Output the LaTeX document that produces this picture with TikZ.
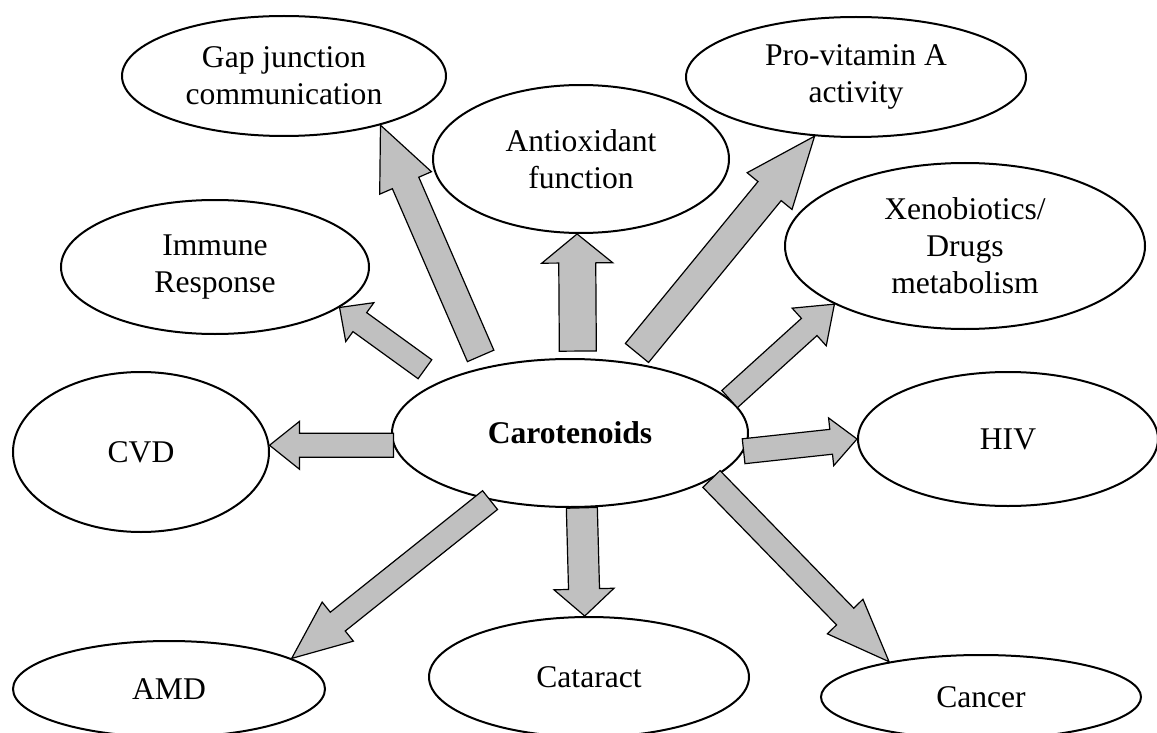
\documentclass[tikz,border=0pt]{standalone}
\usepackage{fontspec}
\setmainfont{Liberation Serif}
\usetikzlibrary{shapes.geometric, calc}

\definecolor{arrowgray}{HTML}{C0C0C0}
\tikzset{
  bubble/.style={draw, ellipse, line width=1pt, inner sep=0pt, align=center,
    font=\fontsize{15.8}{18.5}\selectfont},
  fatarrow/.style={draw, fill=arrowgray, line width=0.6pt, line join=miter}
}

% [gap at tail]{tail}{tip}{shaft half width}{head half width}{head length}
\newcommand\fatarrow[6][0pt]{%
  \coordinate (fa tail) at ($(#2)!#1!(#3)$);
  \coordinate (fa base) at ($(#3)!#6!(fa tail)$);
  \draw[fatarrow] ($(fa tail)!#4!90:(#3)$) -- ($(fa base)!#4!90:(#3)$)
    -- ($(fa base)!#5!90:(#3)$) -- (#3) -- ($(fa base)!#5!-90:(#3)$)
    -- ($(fa base)!#4!-90:(#3)$) -- ($(fa tail)!#4!-90:(#3)$) -- cycle;}

\begin{document}
\begin{tikzpicture}[x=0.5pt, y=-0.5pt]
    \clip (0,0) rectangle (1157,733);
    % outer bubbles
    \node[bubble, minimum width=162pt, minimum height=60pt] (gap) at (284,76) {Gap junction\\communication};
    \node[bubble, minimum width=170pt, minimum height=60pt] (pro) at (856,77) {Pro-vitamin A\\activity};
    \node[bubble, minimum width=148pt, minimum height=74pt] (anti) at (581,159) {Antioxidant\\function};
    \node[bubble, minimum width=154pt, minimum height=67pt] (imm) at (215,267) {Immune\\Response};
    \node[bubble, minimum width=180pt, minimum height=83pt] (xen) at (965,246) {Xenobiotics/\\Drugs\\metabolism};
    \node[bubble, minimum width=128pt, minimum height=80pt] (cvd) at (141,452) {CVD};
    \node[bubble, minimum width=150pt, minimum height=67pt] (hiv) at (1008,439) {HIV};
    \node[bubble, minimum width=156pt, minimum height=48pt] (amd) at (169,689) {AMD};
    \node[bubble, minimum width=160pt, minimum height=60pt] (cat) at (589,677) {Cataract};
    \node[bubble, minimum width=160pt, minimum height=42pt] (can) at (981,697) {Cancer};
    % centre
    \node[bubble, minimum width=178pt, minimum height=74pt,
          font=\fontsize{15.8}{18.5}\selectfont\bfseries] (car) at (570,433) {Carotenoids};

    % block arrows out of the centre
    \fatarrow{car.184}{cvd.3}{6pt}{12pt}{15pt}
    \fatarrow[10pt]{car.158}{imm.-18}{5.85pt}{12pt}{12.5pt}
    \fatarrow[6pt]{car.142}{gap.-27}{7.2pt}{14.1pt}{31.5pt}
    \fatarrow[3.5pt]{car.84}{anti.-93}{9.25pt}{17.75pt}{14.5pt}
    \fatarrow[6pt]{car.50}{pro.-125}{7.5pt}{14.5pt}{35.5pt}
    \fatarrow{car.12}{xen.-156}{5.8pt}{12.7pt}{17pt}
    \fatarrow{car.-6}{hiv.180}{6.25pt}{12pt}{13pt}
    \fatarrow{car.-18}{can.159}{6pt}{12.4pt}{31.5pt}
    \fatarrow{car.-81}{cat.94}{7.75pt}{15pt}{13.5pt}
    \fatarrow{car.-140}{amd.14}{6pt}{12.5pt}{29.5pt}
\end{tikzpicture}
\end{document}
